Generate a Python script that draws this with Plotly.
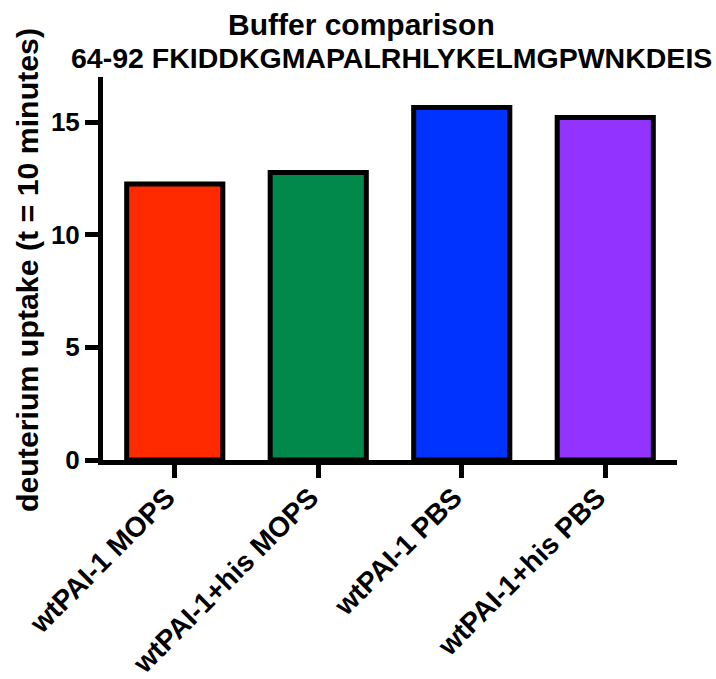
import plotly.graph_objects as go

categories = ["wtPAI-1 MOPS", "wtPAI-1+his MOPS", "wtPAI-1 PBS", "wtPAI-1+his PBS"]
values = [12.25, 12.76, 15.65, 15.2]
colors = ["#FF2A00", "#00894A", "#0033FF", "#9333FF"]
y_ticks = [0, 5, 10, 15]
title_text = "Buffer comparison"
subtitle_text = "64-92 FKIDDKGMAPALRHLYKELMGPWNKDEIS"
y_label = "deuterium uptake (t = 10 minutes)"

FONT = "Liberation Sans, Arial, sans-serif"

L, R, T, B = 103, 39, 77, 219
W, H = 716, 679
pw = W - L - R
ph = H - T - B

fig = go.Figure(go.Bar(
    x=categories, y=values, width=0.67,
    marker=dict(color=colors, line=dict(color="black", width=5)),
))

def px_x(p):
    return (p - L) / pw

def px_y(p):
    return (H - B - p) / ph

fig.update_layout(
    width=W, height=H,
    margin=dict(l=L, r=R, t=T, b=B, pad=0, autoexpand=False),
    plot_bgcolor="white", paper_bgcolor="white",
    showlegend=False,
    font=dict(family=FONT, color="black", size=24, weight="bold"),
    xaxis=dict(
        range=[-0.5, 3.5], showline=True, linewidth=5, linecolor="black",
        ticks="outside", ticklen=13, tickwidth=5, tickcolor="black",
        tickangle=-45, tickfont=dict(size=28, family=FONT, weight="bold"),
        ticklabelshift=-8, ticklabelstandoff=-8,
        showgrid=False, zeroline=False, automargin=False,
    ),
    yaxis=dict(
        range=[0, 17], tickvals=y_ticks, showline=True, linewidth=5, linecolor="black",
        ticks="outside", ticklen=13, tickwidth=5, tickcolor="black",
        tickfont=dict(size=26, family=FONT, weight="bold"),
        showgrid=False, zeroline=False, automargin=False,
    ),
    annotations=[
        dict(text=title_text, xref="paper", yref="paper", x=px_x(361), y=px_y(24),
             xanchor="center", yanchor="middle", showarrow=False,
             font=dict(size=30, family=FONT, weight="bold")),
        dict(text=subtitle_text, xref="paper", yref="paper", x=px_x(391), y=px_y(58),
             xanchor="center", yanchor="middle", showarrow=False,
             font=dict(size=28.5, family=FONT, weight="bold")),
        dict(text=y_label, xref="paper", yref="paper", x=px_x(27), y=px_y(270),
             xanchor="center", yanchor="middle", showarrow=False, textangle=-90,
             font=dict(size=30.3, family=FONT, weight="bold")),
    ],
)

fig.write_html("out.html")
